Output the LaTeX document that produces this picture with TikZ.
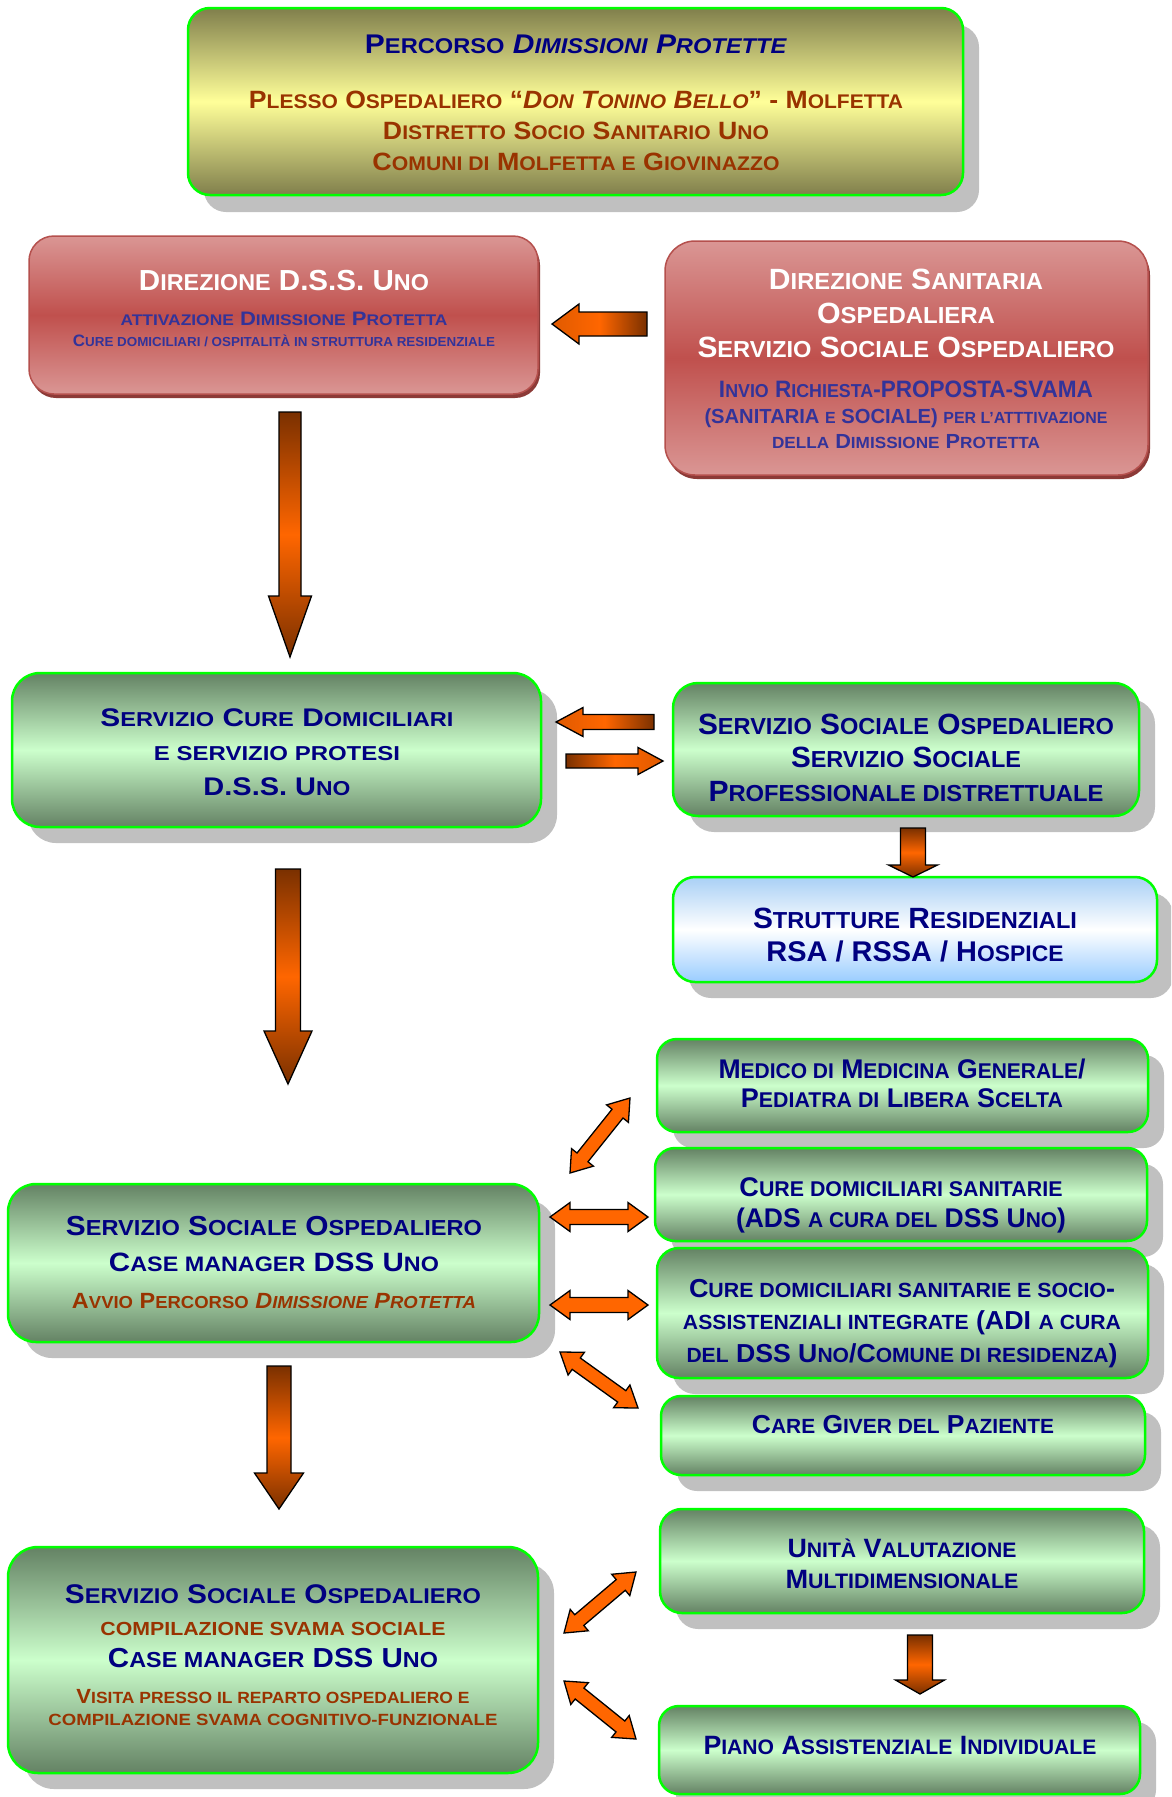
\documentclass[tikz,border=0pt]{standalone}
\usepackage{fontspec}
\setmainfont{Liberation Sans}
\usepackage{graphicx}
\usetikzlibrary{calc}
\definecolor{navy}{HTML}{000080}
\definecolor{brn}{HTML}{993300}
\definecolor{vblue}{HTML}{333399}
\definecolor{bgreen}{HTML}{00FF00}
\definecolor{shgray}{HTML}{C0C0C0}
\definecolor{ggdark}{HTML}{648264}
\definecolor{gglight}{HTML}{CCFFCC}
\definecolor{ydark}{HTML}{807F4C}
\definecolor{ylight}{HTML}{FFFF99}
\definecolor{rlight}{HTML}{DA9694}
\definecolor{rmid}{HTML}{C0504D}
\definecolor{rborder}{HTML}{B5504D}
\definecolor{rshadow}{HTML}{8C3A37}
\definecolor{bltop}{HTML}{A9D0F5}
\definecolor{blbot}{HTML}{99CCFF}
\definecolor{abrown}{HTML}{7A3000}
\definecolor{aorange}{HTML}{FF6600}
\definecolor{atip}{HTML}{E05A00}
\makeatletter
\newcommand\smc[1]{{\fontsize{\fpeval{0.79*\f@size}}{0}\selectfont\MakeUppercase{#1}}}
\makeatother
\newcommand\Ln[3]{{\fontsize{#1}{#1}\selectfont\resizebox{#2pt}{\height}{#3}}}
\tikzset{
  x=1pt, y=-1pt,
  gbox/.style={draw=bgreen, line width=2.5pt, top color=ggdark, bottom color=ggdark, middle color=gglight},
  ybox/.style={draw=bgreen, line width=2.5pt, top color=ydark, bottom color=ydark, middle color=ylight},
  rbox/.style={draw=rborder, line width=1.5pt, top color=rlight, bottom color=rlight, middle color=rmid},
  bbox/.style={draw=bgreen, line width=2.5pt, top color=bltop, bottom color=blbot, middle color=white},
  tx/.style={anchor=base, inner sep=0pt, font=\bfseries},
  arrowline/.style={draw=black, line width=1.3pt},
  vshade/.style={top color=abrown, bottom color=abrown, middle color=aorange},
  lshade/.style={left color=atip, right color=abrown, middle color=aorange},
  rshade/.style={left color=abrown, right color=atip, middle color=aorange},
  darrowline/.style={draw=black, line width=1.3pt, fill=aorange}
}
% #1 style #2 name #3 x1 #4 y1 #5 x2 #6 y2 #7 radius #8 shadow colour #9 shadow offset
\newcommand\mkbox[9]{%
  \fill[#8, rounded corners=#7pt] ($(#3,#4)+(#9)$) rectangle ($(#5,#6)+(#9)$);
  \node[#1, rounded corners=#7pt, inner sep=0pt, minimum width={#5pt-#3pt}, minimum height={#6pt-#4pt}] (#2) at ({(#3+#5)/2},{(#4+#6)/2}) {};}
% single block arrow: #1 opts #2 start #3 end #4 half shaft #5 half head #6 head length
\newcommand\barrow[6]{%
  \coordinate (bH) at ($(#3)!#6pt!(#2)$);
  \draw[arrowline,#1] ($(#2)!#4pt!-90:(#3)$) -- ($(bH)!#4pt!-90:(#3)$) -- ($(bH)!#5pt!-90:(#3)$) -- (#3) -- ($(bH)!#5pt!90:(#3)$) -- ($(bH)!#4pt!90:(#3)$) -- ($(#2)!#4pt!90:(#3)$) -- cycle;}
% double block arrow: #1 end #2 end #3 half shaft #4 half head #5 head length
\newcommand\darrow[5]{%
  \coordinate (dA) at ($(#1)!#5pt!(#2)$);
  \coordinate (dB) at ($(#2)!#5pt!(#1)$);
  \draw[darrowline] (#1) -- ($(dA)!#4pt!90:(#2)$) -- ($(dA)!#3pt!90:(#2)$) -- ($(dB)!#3pt!-90:(#1)$) -- ($(dB)!#4pt!-90:(#1)$) -- (#2) -- ($(dB)!#4pt!90:(#1)$) -- ($(dB)!#3pt!90:(#1)$) -- ($(dA)!#3pt!-90:(#2)$) -- ($(dA)!#4pt!-90:(#2)$) -- cycle;}
\begin{document}
\begin{tikzpicture}
\fill[white] (0,0) rectangle (1171,1797);
\useasboundingbox (0,0) rectangle (1171,1797);
\begin{scope}
\clip (0,0) rectangle (1171,1797);
% boxes
\mkbox{ybox}{top}{188}{8}{963}{195}{22}{shgray}{16,17}
\mkbox{rbox}{red1}{29}{236}{538}{394}{25}{rshadow}{2,4}
\mkbox{rbox}{red2}{665}{241}{1148}{475}{30}{rshadow}{2,4}
\mkbox{gbox}{gA}{12}{673}{541}{827}{28}{shgray}{16,16}
\mkbox{gbox}{gB}{673}{683}{1139}{816}{25}{shgray}{16,16}
\mkbox{bbox}{blue}{673}{877}{1157}{982}{22}{shgray}{16,16}
\mkbox{gbox}{medico}{657}{1039}{1148}{1132}{20}{shgray}{16,16}
\mkbox{gbox}{cureS}{655}{1148}{1147}{1241}{20}{shgray}{16,16}
\mkbox{gbox}{cureI}{657}{1248}{1148}{1378}{22}{shgray}{16,16}
\mkbox{gbox}{care}{661}{1396}{1145}{1475}{20}{shgray}{16,16}
\mkbox{gbox}{case}{8}{1184}{539}{1342}{28}{shgray}{16,16}
\mkbox{gbox}{bl}{8}{1547}{538}{1773}{30}{shgray}{16,16}
\mkbox{gbox}{unita}{660}{1509}{1144}{1613}{22}{shgray}{16,16}
\mkbox{gbox}{piano}{659}{1706}{1140}{1794}{20}{shgray}{16,16}
\end{scope}
% texts: top box
\node[tx] (top1) at (576,53) {\color{navy}\Ln{27}{422}{P\smc{ercorso} \textit{D\smc{imissioni} P\smc{rotette}}}};
\node[tx] (top2) at (576,108) {\color{brn}\Ln{25}{654}{P\smc{lesso} O\smc{spedaliero} “\textit{D\smc{on} T\smc{onino} B\smc{ello}}” - M\smc{olfetta}}};
\node[tx] (top3) at (576,139) {\color{brn}\Ln{25}{386}{D\smc{istretto} S\smc{ocio} S\smc{anitario} U\smc{no}}};
\node[tx] (top4) at (576,170) {\color{brn}\Ln{25}{407}{C\smc{omuni di} M\smc{olfetta e} G\smc{iovinazzo}}};
% red 1
\node[tx] (r1a) at (284,290) {\color{white}\Ln{29}{290}{D\smc{irezione} D.S.S. U\smc{no}}};
\node[tx] (r1b) at (284,325) {\color{vblue}\Ln{19.5}{327}{\smc{attivazione} D\smc{imissione} P\smc{rotetta}}};
\node[tx] (r1c) at (284,346) {\color{vblue}\Ln{16.5}{422}{C\smc{ure domiciliari / ospitalità in struttura residenziale}}};
% red 2
\node[tx] (r2a) at (906,289) {\color{white}\Ln{29.3}{274}{D\smc{irezione} S\smc{anitaria}}};
\node[tx] (r2b) at (906,323) {\color{white}\Ln{29.3}{178}{O\smc{spedaliera}}};
\node[tx] (r2c) at (906,357) {\color{white}\Ln{29.3}{417}{S\smc{ervizio} S\smc{ociale} O\smc{spedaliero}}};
\node[tx] (r2d) at (906,397) {\color{vblue}\Ln{23.7}{374}{I\smc{nvio} R\smc{ichiesta}-PROPOSTA-SVAMA}};
\node[tx] (r2e) at (906,423) {\color{vblue}\Ln{20.4}{403}{(SANITARIA \smc{e} SOCIALE) \smc{per l’atttivazione}}};
\node[tx] (r2f) at (906,448) {\color{vblue}\Ln{20.4}{268}{\smc{della} D\smc{imissione} P\smc{rotetta}}};
% green A
\node[tx] (gAa) at (277,726) {\color{navy}\Ln{25.5}{353}{S\smc{ervizio} C\smc{ure} D\smc{omiciliari}}};
\node[tx] (gAb) at (277,760) {\color{navy}\Ln{25.5}{246}{\smc{e servizio protesi}}};
\node[tx] (gAc) at (277,795) {\color{navy}\Ln{25.5}{147}{D.S.S. U\smc{no}}};
% green B
\node[tx] (gBa) at (906,734) {\color{navy}\Ln{29.3}{416}{S\smc{ervizio} S\smc{ociale} O\smc{spedaliero}}};
\node[tx] (gBb) at (906,767) {\color{navy}\Ln{29.3}{230}{S\smc{ervizio} S\smc{ociale}}};
\node[tx] (gBc) at (906,801) {\color{navy}\Ln{29.3}{395}{P\smc{rofessionale distrettuale}}};
% blue
\node[tx] (bla) at (915,928) {\color{navy}\Ln{29.3}{324}{S\smc{trutture} R\smc{esidenziali}}};
\node[tx] (blb) at (915,961) {\color{navy}\Ln{28.5}{297}{RSA / RSSA / H\smc{ospice}}};
% medico
\node[tx] (mea) at (902,1078) {\color{navy}\Ln{27}{367}{M\smc{edico di} M\smc{edicina} G\smc{enerale}/}};
\node[tx] (meb) at (902,1107) {\color{navy}\Ln{27}{322}{P\smc{ediatra di} L\smc{ibera} S\smc{celta}}};
% cure sanitarie
\node[tx] (csa) at (901,1196) {\color{navy}\Ln{27}{323}{C\smc{ure domiciliari sanitarie}}};
\node[tx] (csb) at (901,1227) {\color{navy}\Ln{27}{330}{(ADS \smc{a cura del} DSS U\smc{no})}};
% cure integrate
\node[tx] (cia) at (902,1297) {\color{navy}\Ln{26}{426}{C\smc{ure domiciliari sanitarie e socio}-}};
\node[tx] (cib) at (902,1329) {\color{navy}\Ln{26}{438}{\smc{assistenziali integrate} (ADI \smc{a cura}}};
\node[tx] (cic) at (902,1362) {\color{navy}\Ln{26}{431}{\smc{del} DSS U\smc{no}/C\smc{omune di residenza})}};
% care giver
\node[tx] (cga) at (903,1433) {\color{navy}\Ln{26}{302}{C\smc{are} G\smc{iver del} P\smc{aziente}}};
% case manager
\node[tx] (cma) at (274,1235) {\color{navy}\Ln{27.5}{416}{S\smc{ervizio} S\smc{ociale} O\smc{spedaliero}}};
\node[tx] (cmb) at (274,1271) {\color{navy}\Ln{26.5}{330}{C\smc{ase manager} DSS U\smc{no}}};
\node[tx] (cmc) at (274,1308) {\color{brn}\Ln{22}{404}{A\smc{vvio} P\smc{ercorso} \textit{D\smc{imissione} P\smc{rotetta}}}};
% bottom left
\node[tx] (bla1) at (273,1603) {\color{navy}\Ln{27}{416}{S\smc{ervizio} S\smc{ociale} O\smc{spedaliero}}};
\node[tx] (bla2) at (273,1635) {\color{brn}\Ln{24}{345}{\smc{compilazione svama sociale}}};
\node[tx] (bla3) at (273,1667) {\color{navy}\Ln{27.5}{330}{C\smc{ase manager} DSS U\smc{no}}};
\node[tx] (bla4) at (273,1703) {\color{brn}\Ln{20.5}{393}{V\smc{isita presso il reparto ospedaliero e}}};
\node[tx] (bla5) at (273,1725) {\color{brn}\Ln{20.5}{449}{\smc{compilazione svama cognitivo-funzionale}}};
% unita
\node[tx] (una) at (902,1557) {\color{navy}\Ln{26.5}{229}{U\smc{nità} V\smc{alutazione}}};
\node[tx] (unb) at (902,1588) {\color{navy}\Ln{26.5}{233}{M\smc{ultidimensionale}}};
% piano
\node[tx] (pia) at (900,1754) {\color{navy}\Ln{26.5}{393}{P\smc{iano} A\smc{ssistenziale} I\smc{ndividuale}}};
% arrow end points
\coordinate (a0s) at (647,324);  \coordinate (a0e) at (552,324);
\coordinate (a1s) at (290,412);  \coordinate (a1e) at (290,657);
\coordinate (a2s) at (654,722);  \coordinate (a2e) at (556,722);
\coordinate (a3s) at (566,761);  \coordinate (a3e) at (663,761);
\coordinate (a4s) at (913,828);  \coordinate (a4e) at (913,877);
\coordinate (a5s) at (288,869);  \coordinate (a5e) at (288,1084);
\coordinate (a6s) at (279,1366); \coordinate (a6e) at (279,1509);
\coordinate (a7s) at (920,1635); \coordinate (a7e) at (920,1694);
\coordinate (d1s) at (570,1173); \coordinate (d1e) at (630,1098);
\coordinate (d2s) at (550,1217); \coordinate (d2e) at (648,1217);
\coordinate (d3s) at (550,1305); \coordinate (d3e) at (648,1305);
\coordinate (d4s) at (560,1352); \coordinate (d4e) at (638,1408);
\coordinate (d5s) at (564,1633); \coordinate (d5e) at (636,1572);
\coordinate (d6s) at (564,1681); \coordinate (d6e) at (636,1739);
% single arrows
\barrow{lshade}{a0s}{a0e}{12}{20}{27}
\barrow{vshade}{a1s}{a1e}{11}{21.5}{61}
\barrow{lshade}{a2s}{a2e}{7.5}{14.5}{27}
\barrow{rshade}{a3s}{a3e}{7}{13.5}{25}
\barrow{vshade}{a4s}{a4e}{12.5}{24.5}{12}
\barrow{vshade}{a5s}{a5e}{12.5}{24}{53}
\barrow{vshade}{a6s}{a6e}{12}{24.5}{36}
\barrow{vshade}{a7s}{a7e}{12.5}{24.5}{14}
% double arrows
\darrow{d1s}{d1e}{7}{14}{20}
\darrow{d2s}{d2e}{7.5}{14.5}{20}
\darrow{d3s}{d3e}{7.5}{14.5}{20}
\darrow{d4s}{d4e}{7}{14}{20}
\darrow{d5s}{d5e}{7}{14}{20}
\darrow{d6s}{d6e}{7}{14}{20}
\end{tikzpicture}
\end{document}
